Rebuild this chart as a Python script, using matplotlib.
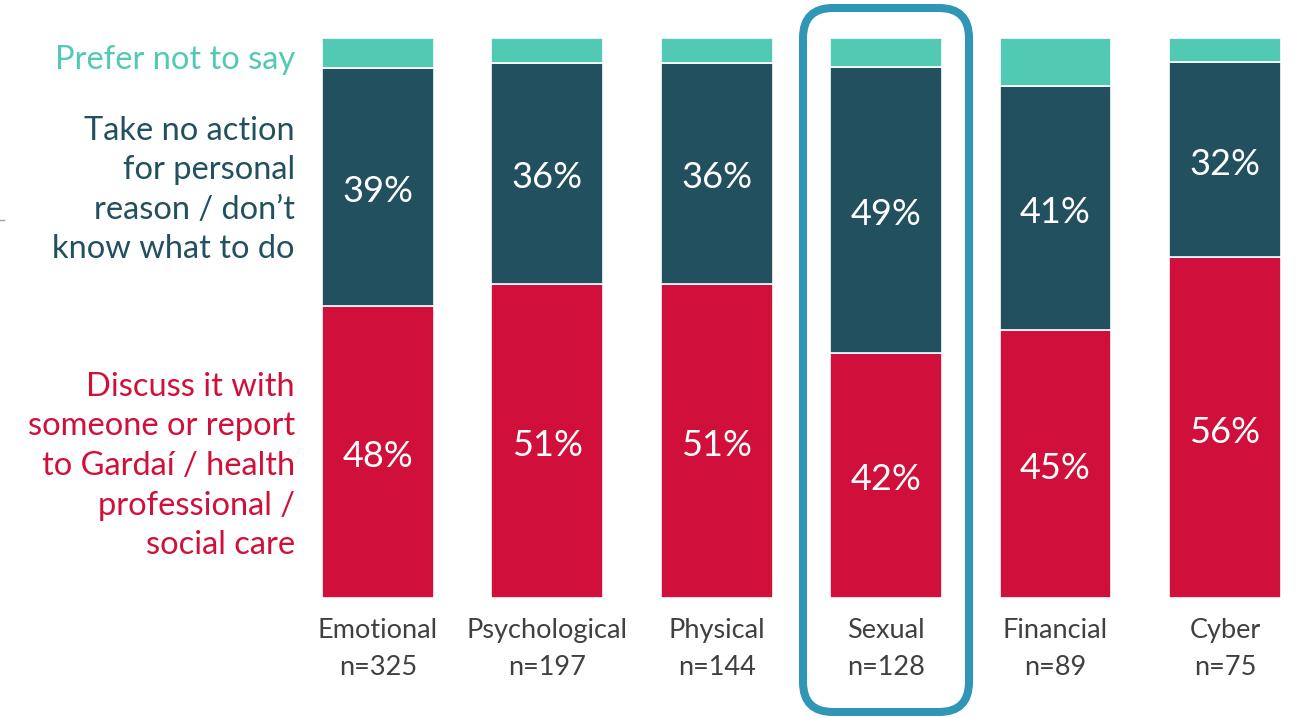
import matplotlib
matplotlib.use("Agg")
import matplotlib.pyplot as plt
from matplotlib.patches import FancyBboxPatch
from matplotlib.transforms import IdentityTransform, blended_transform_factory
import numpy as np

plt.rcParams['font.family'] = ['Lato', 'DejaVu Sans']

categories = ['Emotional', 'Psychological', 'Physical', 'Sexual', 'Financial', 'Cyber']
sample_sizes = [325, 197, 144, 128, 89, 75]
discuss = [48, 51, 51, 42, 45, 56]
no_action = [39, 36, 36, 49, 41, 32]
prefer_not = [5, 4, 4, 5, 8, 4]

series_labels = ['Discuss it with\nsomeone or report\nto Gardaí / health\nprofessional /\nsocial care',
                 'Take no action\nfor personal\nreason / don\u2019t\nknow what to do',
                 'Prefer not to say']

c_red = '#D0103A'
c_dark = '#22505F'
c_light = '#52C9B3'
c_box = '#3096B5'
c_grey = '#404040'

W, H = 1296, 718
fig = plt.figure(figsize=(W / 100, H / 100), dpi=100)
ax = fig.add_axes([300 / W, 120 / H, 990 / W, 560 / H])

x = np.arange(len(categories))
d = np.array(discuss, float)
n = np.array(no_action, float)
p = np.array(prefer_not, float)
tot = d + n + p
d_s, n_s, p_s = d / tot * 100, n / tot * 100, p / tot * 100

bw = 0.66
ax.bar(x, d_s, bw, color=c_red, edgecolor='white', linewidth=1.2)
ax.bar(x, n_s, bw, bottom=d_s, color=c_dark, edgecolor='white', linewidth=1.2)
ax.bar(x, p_s, bw, bottom=d_s + n_s, color=c_light, edgecolor='white', linewidth=1.2)

for i in range(len(x)):
    ax.text(x[i], d_s[i] / 2 - 0.8, f'{discuss[i]}%', ha='center', va='center',
            color='white', fontsize=26)
    ax.text(x[i], d_s[i] + n_s[i] / 2 - 0.8, f'{no_action[i]}%', ha='center', va='center',
            color='white', fontsize=26)

ax.set_xlim(-0.46, 5.384)
ax.set_ylim(0, 100)
ax.axis('off')

# category labels under the bars
tr = blended_transform_factory(ax.transData, fig.transFigure)
for i, cat in enumerate(categories):
    ax.text(x[i], (H - 649) / H, f'{cat}\nn={sample_sizes[i]}', transform=tr,
            ha='center', va='center', color=c_grey, fontsize=19.5,
            linespacing=1.62)

# series labels on the left
fig.text(295 / W, (H - 466) / H, series_labels[0], ha='right', va='center',
         color=c_red, fontsize=23.5, linespacing=1.4)
fig.text(295 / W, (H - 190) / H, series_labels[1], ha='right', va='center',
         color=c_dark, fontsize=23.5, linespacing=1.4)
fig.text(295 / W, (H - 60) / H, series_labels[2], ha='right', va='center',
         color=c_light, fontsize=23.5)

# highlight box around Sexual
box = FancyBboxPatch((803, 6), 166, 704, boxstyle='round,pad=0,rounding_size=30',
                     transform=IdentityTransform(), fill=False, edgecolor=c_box,
                     linewidth=5.8)
fig.patches.append(box)

fig.lines.append(plt.Line2D([0, 4 / W], [(H - 220) / H] * 2, transform=fig.transFigure,
                            color='#9AA5A8', linewidth=1))

fig.savefig('out.png', dpi=100)
